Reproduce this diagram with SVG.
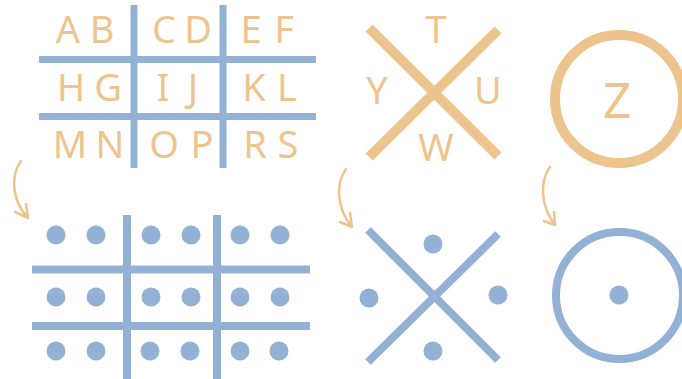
<svg xmlns="http://www.w3.org/2000/svg" width="682" height="379" viewBox="0 0 682 379">
<style>
.o{fill:#EEC48E;font-family:"Noto Sans","Liberation Sans",sans-serif;font-size:38px;text-anchor:middle}
.bl{stroke:#93B0D5;fill:none}
.ol{stroke:#EEC48E;fill:none}
.d{fill:#93B0D5}
.ar{stroke:#EEC48E;fill:none;stroke-width:2.5;stroke-linecap:round;stroke-linejoin:round}
</style>
<rect width="682" height="379" fill="#fff"/>
<g id="grid-letters">
<path class="bl" stroke-width="7" d="M134,5V168M223,5V168M39,59.5H316M39,116.5H316"/>
<text class="o" x="68" y="43">A</text><text class="o" x="102" y="43">B</text>
<text class="o" x="164" y="43">C</text><text class="o" x="198" y="43">D</text>
<text class="o" x="251" y="43">E</text><text class="o" x="284" y="43">F</text>
<text class="o" x="71" y="101">H</text><text class="o" x="108" y="101">G</text>
<text class="o" x="163" y="101">I</text><text class="o" x="193" y="101">J</text>
<text class="o" x="254" y="101">K</text><text class="o" x="287" y="101">L</text>
<text class="o" x="70" y="158">M</text><text class="o" x="110" y="158">N</text>
<text class="o" x="164" y="158">O</text><text class="o" x="202" y="158">P</text>
<text class="o" x="255" y="158">R</text><text class="o" x="288" y="158">S</text>
</g>
<g id="x-letters">
<path class="ol" stroke-width="10" d="M369,28L498,156M498,30L369,157"/>
<text class="o" x="436" y="43">T</text>
<text class="o" x="377" y="104">Y</text>
<text class="o" x="488" y="104">U</text>
<text class="o" x="436" y="161">W</text>
</g>
<g id="circle-letter">
<circle class="ol" stroke-width="10" cx="619" cy="99" r="64"/>
<text class="o" x="617" y="118" style="font-size:50px">Z</text>
</g>
<g id="grid-dots">
<path class="bl" stroke-width="8" d="M127,215V379M217,215V379M32,269.5H310M32,326H310"/>
<g class="d">
<circle cx="56" cy="235" r="9.5"/><circle cx="96" cy="235" r="9.5"/><circle cx="151" cy="235" r="9.5"/><circle cx="191" cy="235" r="9.5"/><circle cx="240" cy="235" r="9.5"/><circle cx="280" cy="235" r="9.5"/>
<circle cx="56" cy="297" r="9.5"/><circle cx="96" cy="297" r="9.5"/><circle cx="151" cy="297" r="9.5"/><circle cx="191" cy="297" r="9.5"/><circle cx="240" cy="297" r="9.5"/><circle cx="280" cy="297" r="9.5"/>
<circle cx="56" cy="351" r="9.5"/><circle cx="96" cy="351" r="9.5"/><circle cx="150" cy="351" r="9.5"/><circle cx="190" cy="351" r="9.5"/><circle cx="240" cy="351" r="9.5"/><circle cx="279" cy="351" r="9.5"/>
</g>
</g>
<g id="x-dots">
<path class="bl" stroke-width="8" d="M368,230L498,360M498,234L368,362"/>
<g class="d">
<circle cx="433" cy="244" r="9.5"/><circle cx="369" cy="298" r="9.5"/><circle cx="498" cy="295" r="9.5"/><circle cx="433" cy="351" r="9.5"/>
</g>
</g>
<g id="circle-dot">
<circle class="bl" stroke-width="8" cx="619.5" cy="295.5" r="63.5"/>
<circle class="d" cx="619" cy="295" r="9.5"/>
</g>
<g id="connectors">
<path class="ar" d="M21,161C10,176 12,201 28,218M15,212L28,218L26,204"/>
<path class="ar" d="M346,169C335,184 337,209 352,227M340,222L352,227L350,213"/>
<path class="ar" d="M550,167C539,182 541,207 555,225M544,221L555,225L554,212"/>
</g>
</svg>
